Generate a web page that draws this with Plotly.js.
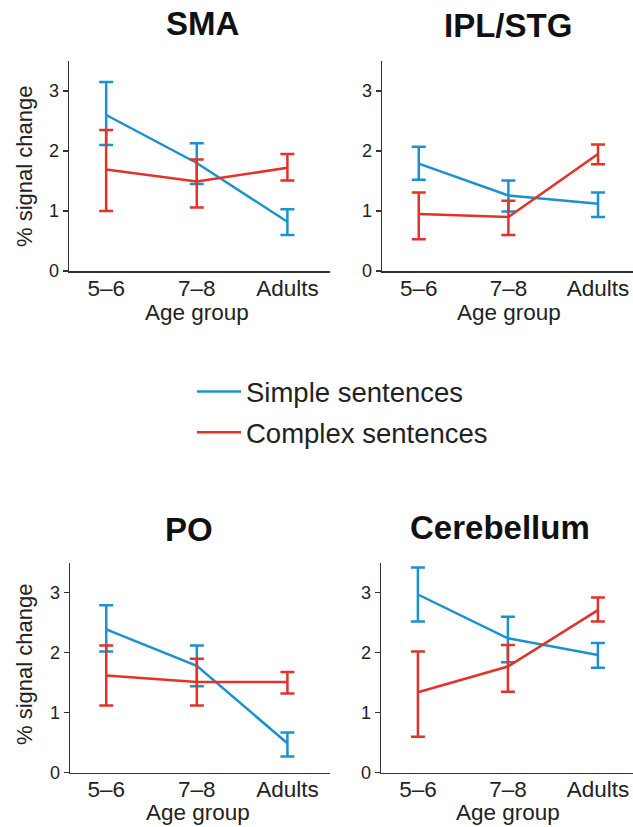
<!DOCTYPE html>
<html>
<head>
<meta charset="utf-8">
<script src="https://cdn.plot.ly/plotly-3.0.1.min.js"></script>
<style>html,body{margin:0;padding:0;background:#fff;}#chart{width:633px;height:827px;}</style>
</head>
<body>
<div id="chart"></div>
<script>
// Data
const ageGroups = ["5–6", "7–8", "Adults"];
const panelTitles = ["SMA", "IPL/STG", "PO", "Cerebellum"];
const seriesNames = ["Simple sentences", "Complex sentences"];
const xTitle = "Age group";
const yTitle = "% signal change";

// Simple sentences: mean, upper, lower per panel
const simpleMean  = [[2.60, 1.80, 0.82], [1.79, 1.26, 1.12], [2.39, 1.78, 0.49], [2.97, 2.24, 1.96]];
const simpleUpper = [[3.15, 2.13, 1.03], [2.07, 1.51, 1.31], [2.79, 2.12, 0.67], [3.42, 2.60, 2.16]];
const simpleLower = [[2.10, 1.45, 0.60], [1.52, 0.99, 0.90], [2.02, 1.44, 0.27], [2.52, 1.84, 1.75]];

// Complex sentences
const complexMean  = [[1.69, 1.49, 1.72], [0.95, 0.90, 1.95], [1.62, 1.51, 1.51], [1.34, 1.77, 2.71]];
const complexUpper = [[2.35, 1.86, 1.95], [1.31, 1.17, 2.11], [2.12, 1.90, 1.68], [2.02, 2.13, 2.92]];
const complexLower = [[1.00, 1.06, 1.51], [0.53, 0.60, 1.78], [1.12, 1.12, 1.32], [0.60, 1.35, 2.52]];

const yTicks = [0, 1, 2, 3];

const BLUE = "rgb(28,145,210)";
const RED = "rgb(227,50,40)";
const AXC = "#333333";
const FONT = "Liberation Sans, Arial, sans-serif";

// Layout geometry (pixel based)
const W = 633, H = 827;
const panels = [
  {x0: 69,  x1: 330, xr: [-0.41, 2.47], yb: 271,   yt: 61},
  {x0: 382, x1: 633, xr: [-0.41, 2.39], yb: 271,   yt: 61},
  {x0: 70,  x1: 330, xr: [-0.40, 2.47], yb: 772.7, yt: 562.7},
  {x0: 381, x1: 633, xr: [-0.41, 2.39], yb: 772.7, yt: 562.7}
];
const titlePos = [[202, 23], [508, 25], [189, 529], [500, 527]];
const xTitlePos = [[197, 312], [509, 312], [198, 812], [508, 812]];
const yTitlePos = [[24, 167], null, [24, 665], null];

function diff(a, b, sign) { return a.map((v, i) => sign * (b[i] - v)); }

const traces = [];
const layout = {
  width: W, height: H,
  margin: {l: 0, r: 0, t: 0, b: 0},
  paper_bgcolor: "#ffffff",
  plot_bgcolor: "rgba(0,0,0,0)",
  showlegend: true,
  legend: {
    x: 192 / W, y: 1 - 367 / H, xanchor: "left", yanchor: "top",
    font: {family: FONT, size: 27.5, color: "#222"},
    bgcolor: "rgba(0,0,0,0)",
    tracegroupgap: 2,
    itemwidth: 44
  },
  annotations: [],
  font: {family: FONT}
};

panels.forEach((p, i) => {
  const n = i + 1;
  const xa = "x" + (n === 1 ? "" : n);
  const ya = "y" + (n === 1 ? "" : n);
  traces.push({
    x: ageGroups, y: simpleMean[i], xaxis: xa, yaxis: ya,
    type: "scatter", mode: "lines", name: seriesNames[0],
    legendgroup: "s", showlegend: i === 0,
    line: {color: BLUE, width: 2.5},
    error_y: {type: "data", symmetric: false,
      array: diff(simpleMean[i], simpleUpper[i], 1),
      arrayminus: diff(simpleMean[i], simpleLower[i], -1),
      color: BLUE, thickness: 2.5, width: 7}
  });
  traces.push({
    x: ageGroups, y: complexMean[i], xaxis: xa, yaxis: ya,
    type: "scatter", mode: "lines", name: seriesNames[1],
    legendgroup: "c", showlegend: i === 0,
    line: {color: RED, width: 2.5},
    error_y: {type: "data", symmetric: false,
      array: diff(complexMean[i], complexUpper[i], 1),
      arrayminus: diff(complexMean[i], complexLower[i], -1),
      color: RED, thickness: 2.5, width: 7}
  });
  const xk = "xaxis" + (n === 1 ? "" : n);
  const yk = "yaxis" + (n === 1 ? "" : n);
  layout[xk] = {
    domain: [p.x0 / W, p.x1 / W], anchor: ya,
    type: "category", range: p.xr,
    showline: true, linecolor: AXC, linewidth: 1.5,
    showgrid: false, zeroline: false, ticks: "",
    tickfont: {family: FONT, size: 22.5, color: "#222"},
    ticklabelstandoff: -4,
    title: {text: ""},
    fixedrange: true
  };
  layout[yk] = {
    domain: [1 - p.yb / H, 1 - p.yt / H], anchor: xa,
    range: [0, 3.5], tickvals: yTicks, ticktext: yTicks.map(String),
    showline: true, linecolor: AXC, linewidth: 1.5,
    showgrid: false, zeroline: false,
    ticks: "outside", ticklen: 5, tickwidth: 1.2, tickcolor: AXC,
    tickfont: {family: FONT, size: 18, color: "#222"},
    title: {text: ""},
    fixedrange: true
  };
  layout.annotations.push({
    text: "<b>" + panelTitles[i] + "</b>",
    xref: "paper", yref: "paper",
    x: titlePos[i][0] / W, y: 1 - titlePos[i][1] / H,
    xanchor: "center", yanchor: "middle", showarrow: false,
    font: {family: FONT, size: 33, color: "#111"}
  });
  layout.annotations.push({
    text: xTitle,
    xref: "paper", yref: "paper",
    x: xTitlePos[i][0] / W, y: 1 - xTitlePos[i][1] / H,
    xanchor: "center", yanchor: "middle", showarrow: false,
    font: {family: FONT, size: 22.5, color: "#222"}
  });
  if (yTitlePos[i]) {
    layout.annotations.push({
      text: yTitle, textangle: -90,
      xref: "paper", yref: "paper",
      x: yTitlePos[i][0] / W, y: 1 - yTitlePos[i][1] / H,
      xanchor: "center", yanchor: "middle", showarrow: false,
      font: {family: FONT, size: 22, color: "#222"}
    });
  }
});

Plotly.newPlot("chart", traces, layout, {displayModeBar: false, staticPlot: true});
</script>
</body>
</html>
